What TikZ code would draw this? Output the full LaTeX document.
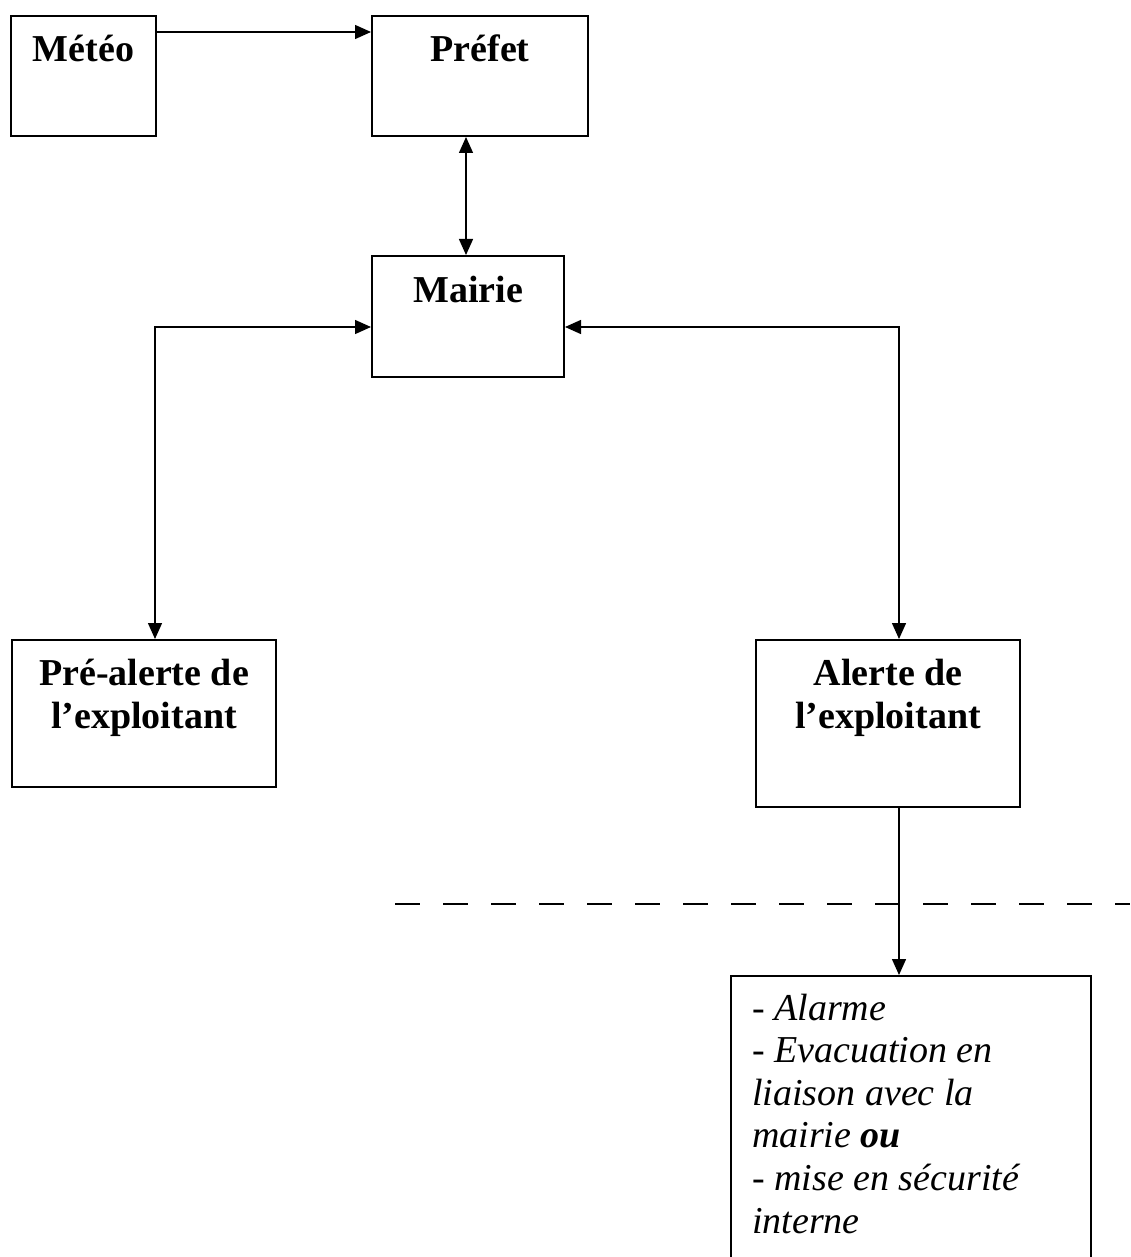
\documentclass[tikz,border=0pt]{standalone}
\usepackage{fontspec}
\setmainfont{Liberation Serif}
\usetikzlibrary{arrows.meta}
\tikzset{
  box/.style={draw, line width=2pt, rectangle, inner sep=0pt, anchor=north west},
  lbl/.style={inner sep=0pt, font=\fontsize{38}{43.7}\selectfont\bfseries},
  actlbl/.style={inner sep=0pt, font=\fontsize{38}{42.6}\selectfont\itshape},
  conn/.style={line width=1.4pt},
  arr/.style={conn, -{Triangle[length=16pt,width=14pt]}},
  arrboth/.style={conn, {Triangle[length=16pt,width=14pt]}-{Triangle[length=16pt,width=14pt]}},
  sep/.style={line width=1.8pt, dash pattern=on 25pt off 23pt}
}
\begin{document}
\begin{tikzpicture}[x=1pt,y=-1pt]
\useasboundingbox[fill=white] (0,0) rectangle (1130,1257);
\clip (0,0) rectangle (1130,1257);
% boxes
\node[box, minimum width=145pt, minimum height=120pt] (meteo) at (10,15) {};
\node[box, minimum width=216pt, minimum height=120pt] (prefet) at (371,15) {};
\node[box, minimum width=192pt, minimum height=121pt] (mairie) at (371,255) {};
\node[box, minimum width=264pt, minimum height=147pt] (pre) at (11,639) {};
\node[box, minimum width=264pt, minimum height=167pt] (alerte) at (755,639) {};
\node[box, minimum width=360pt, minimum height=400pt] (act) at (730,975) {};
% texts
\node[lbl, anchor=base] (meteo-t) at ([yshift=-47pt]meteo.north) {Météo};
\node[lbl, anchor=base] (prefet-t) at ([yshift=-47pt]prefet.north) {Préfet};
\node[lbl, anchor=base] (mairie-t) at ([yshift=-47pt]mairie.north) {Mairie};
\node[lbl, anchor=base] (pre-t) at ([yshift=-46pt]pre.north)
  {\begin{tabular}[t]{@{}c@{}}Pré-alerte de\\l’exploitant\end{tabular}};
\node[lbl, anchor=base] (alerte-t) at ([yshift=-46pt]alerte.north)
  {\begin{tabular}[t]{@{}c@{}}Alerte de\\l’exploitant\end{tabular}};
\node[actlbl, anchor=base west] (act-t) at ([xshift=22pt,yshift=-45pt]act.north west)
  {\begin{tabular}[t]{@{}l@{}}- Alarme\\- Evacuation en\\liaison avec la\\mairie \textbf{ou}\\- mise en sécurité\\interne\end{tabular}};
% connectors
\draw[arr] ([yshift=-17pt]meteo.north east) -- ([yshift=-17pt]prefet.north west);
\draw[arrboth] ([xshift=95pt]prefet.south west) -- ([xshift=95pt]mairie.north west);
\draw[arrboth] ([yshift=-72pt]mairie.north west) -| ([xshift=144pt]pre.north west);
\draw[arrboth] ([yshift=-72pt]mairie.north east) -| ([xshift=144pt]alerte.north west);
\draw[arr] ([xshift=144pt]alerte.south west) -- ([xshift=169pt]act.north west);
% separator
\coordinate (sepL) at (395,904);
\coordinate (sepR) at (1130,904);
\draw[sep] (sepL) -- (sepR);
\end{tikzpicture}
\end{document}
